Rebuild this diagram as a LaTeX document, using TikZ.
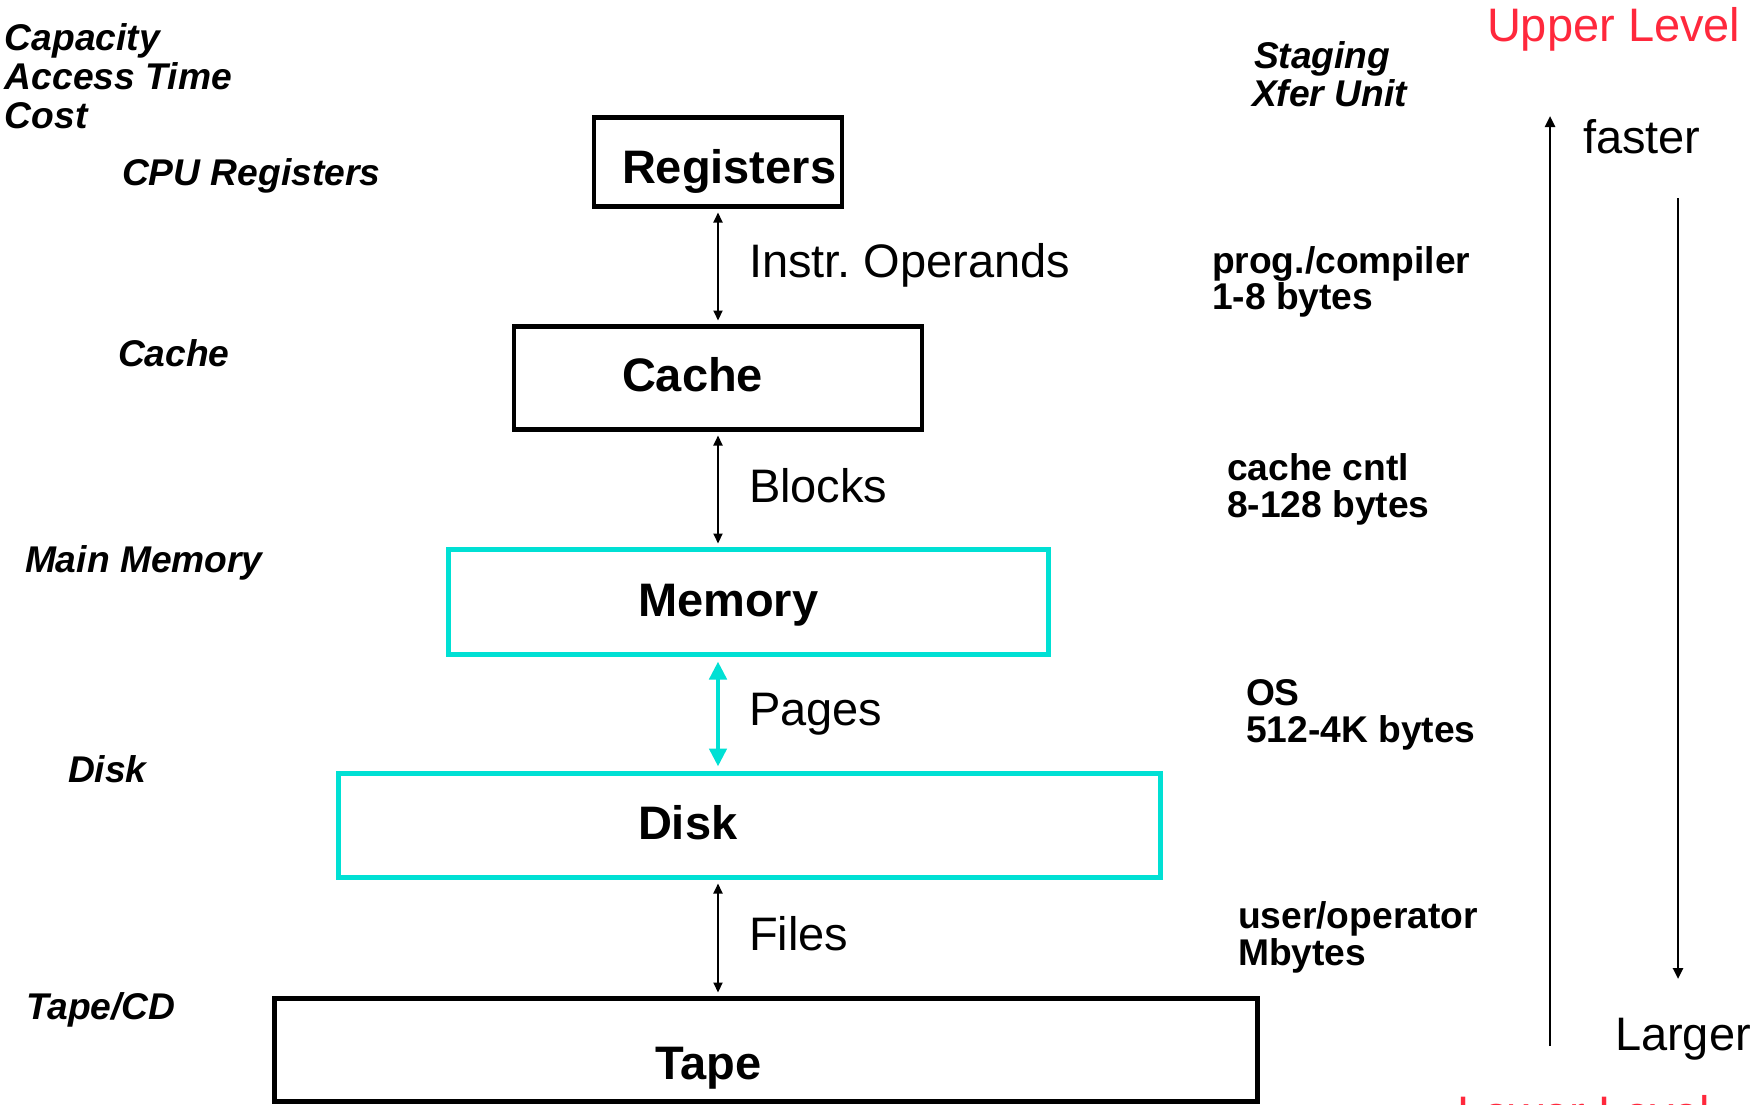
\documentclass[tikz,border=0pt]{standalone}
\usepackage{fontspec}
\setmainfont{Liberation Sans}
\usetikzlibrary{arrows.meta}
\frenchspacing
\definecolor{tq}{RGB}{0,224,212}
\definecolor{lvred}{RGB}{255,40,60}
\tikzset{
  x=1pt, y=-1pt,
  every node/.style={inner sep=0pt, outer sep=0pt, anchor=base west},
  levelbox/.style={draw=black, line width=4.5pt, rectangle, anchor=center},
  tqbox/.style={levelbox, draw=tq, line width=5pt},
  boxtext/.style={font=\fontsize{47}{56}\selectfont\bfseries},
  linktext/.style={font=\fontsize{47}{56}\selectfont},
  sidelabel/.style={font=\fontsize{37.2}{38}\selectfont\bfseries\itshape},
  unitlabel/.style={font=\fontsize{37.2}{38}\selectfont\bfseries},
  levellabel/.style={font=\fontsize{47}{56}\selectfont, text=lvred},
  trendlabel/.style={font=\fontsize{47}{56}\selectfont},
  conn/.style={line width=2pt, {Triangle[width=9pt,length=10pt]}-{Triangle[width=9pt,length=10pt]}, shorten <=6pt, shorten >=6pt},
  tqconn/.style={draw=tq, line width=4.5pt, {Triangle[width=17pt,length=18pt]}-{Triangle[width=17pt,length=18pt]}, shorten <=7pt, shorten >=7pt},
  trend/.style={line width=2.5pt, -{Triangle[width=10pt,length=11pt]}}
}
\begin{document}
\begin{tikzpicture}
\clip (0,0) rectangle (1752,1104);
\fill[white] (0,0) rectangle (1752,1104);

% hierarchy levels
\node[levelbox, minimum width=248pt, minimum height=89pt]  (reg)   at (718,162)    {};
\node[levelbox, minimum width=408pt, minimum height=103pt] (cache) at (718,378)    {};
\node[tqbox,    minimum width=600pt, minimum height=105pt] (mem)   at (748.5,602)  {};
\node[tqbox,    minimum width=822pt, minimum height=104pt] (disk)  at (749.5,825.5) {};
\node[levelbox, minimum width=983pt, minimum height=103pt] (tape)  at (766,1050) {};

\node[boxtext] (regT)   at (622,183)  {Registers};
\node[boxtext] (cacheT) at (622,391)  {Cache};
\node[boxtext] (memT)   at (638,616)  {Memory};
\node[boxtext] (diskT)  at (638,839)  {Disk};
\node[boxtext] (tapeT)  at (655,1079) {Tape};

% transfers between levels
\draw[conn]   (reg.south) -- (reg.south |- cache.north);
\draw[conn]   (cache.south) -- (cache.south |- mem.north);
\draw[tqconn] (cache.south |- mem.south) -- (cache.south |- disk.north);
\draw[conn]   (cache.south |- disk.south) -- (cache.south |- tape.north);

\node[linktext] (opsT)    at (749,277) {Instr. Operands};
\node[linktext] (blocksT) at (749,502) {Blocks};
\node[linktext] (pagesT)  at (749,725) {Pages};
\node[linktext] (filesT)  at (749,950) {Files};

% left column
\node[sidelabel] (capL)   at (5,50)    {Capacity};
\node[sidelabel] (accL)   at (5,89)    {Access Time};
\node[sidelabel] (costL)  at (5,128)   {Cost};
\node[sidelabel] (cpuL)   at (122,185) {CPU Registers};
\node[sidelabel] (cacheL) at (118,366) {Cache};
\node[sidelabel] (mainL)  at (25,572)  {Main Memory};
\node[sidelabel] (diskL)  at (68,782)  {Disk};
\node[sidelabel] (tapeL)  at (26,1019) {Tape/CD};

% staging column
\node[sidelabel] (stgL)  at (1254,68)  {Staging};
\node[sidelabel] (xferL) at (1252,106) {Xfer Unit};

\node[unitlabel] (u1a) at (1212,273) {prog./compiler};
\node[unitlabel] (u1b) at (1212,309) {1-8 bytes};
\node[unitlabel] (u2a) at (1227,480) {cache cntl};
\node[unitlabel] (u2b) at (1227,517) {8-128 bytes};
\node[unitlabel] (u3a) at (1246,705) {OS};
\node[unitlabel] (u3b) at (1246,742) {512-4K bytes};
\node[unitlabel] (u4a) at (1238,928) {user/operator};
\node[unitlabel] (u4b) at (1238,965) {Mbytes};

% speed / size trends
\node[levellabel] (upper) at (1487,41)   {Upper Level};
\node[levellabel] (lower) at (1457,1129) {Lower Level};
\node[trendlabel] (fast)  at (1583,153)  {faster};
\node[trendlabel] (large) at (1615,1050) {Larger};

\coordinate (upFrom)   at (1550,1046);
\coordinate (upTo)     at (1550,116);
\coordinate (downFrom) at (1678,198);
\coordinate (downTo)   at (1678,979);
\draw[trend] (upFrom) -- (upTo);
\draw[trend] (downFrom) -- (downTo);
\end{tikzpicture}
\end{document}
